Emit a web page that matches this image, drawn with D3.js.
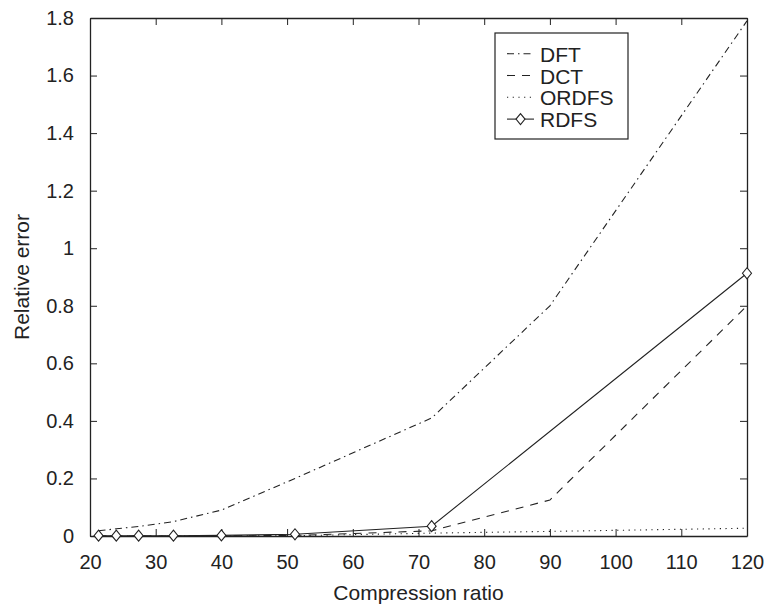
<!DOCTYPE html>
<html>
<head>
<meta charset="utf-8">
<script src="https://cdn.jsdelivr.net/npm/d3@7"></script>
<style>
  body { margin: 0; background: #fff; }
  text { font-family: "Liberation Sans", Arial, sans-serif; fill: #222; }
</style>
</head>
<body>
<div class="container"></div>
<script>
// ===== DATA =====
var xTicks = [20, 30, 40, 50, 60, 70, 80, 90, 100, 110, 120];
var yTicks = [0, 0.2, 0.4, 0.6, 0.8, 1, 1.2, 1.4, 1.6, 1.8];
var yTickLabels = ['0', '0.2', '0.4', '0.6', '0.8', '1', '1.2', '1.4', '1.6', '1.8'];

var ratioDFT = [21.3, 24, 27.4, 32.7, 40, 51.2, 72, 90, 120];
var errDFT   = [0.018, 0.025, 0.033, 0.05, 0.09, 0.2, 0.41, 0.8, 1.79];

var ratioDCT = [21.3, 24, 27.4, 32.7, 40, 51.2, 72, 90, 120];
var errDCT   = [0, 0, 0, 0, 0, 0.002, 0.018, 0.125, 0.8];

var ratioORDFS = [21.3, 24, 27.4, 32.7, 40, 51.2, 72, 90, 120];
var errORDFS   = [0, 0, 0, 0, 0, 0.001, 0.01, 0.016, 0.027];

var ratioRDFS = [21.3, 24, 27.4, 32.7, 40, 51.2, 72, 120];
var errRDFS   = [0.001, 0.001, 0.001, 0.001, 0.002, 0.006, 0.034, 0.913];

var seriesNames = ['DFT', 'DCT', 'ORDFS', 'RDFS'];

buildChart();

function buildChart() {

  /* ===== SET UP CHART ===== */
  var w = 768, h = 606;
  var left = 90, right = 747, top = 18, bottom = 536;
  var ink = '#222';

  var svg = d3.select('.container')
    .append('svg')
    .attr('width', w)
    .attr('height', h);

  var xScale = d3.scaleLinear().domain([20, 120]).range([left, right]);
  var yScale = d3.scaleLinear().domain([0, 1.8]).range([bottom, top]);

  var styles = {
    DFT:   { dash: '7,4,1.5,4' },
    DCT:   { dash: '8,7' },
    ORDFS: { dash: '1.2,4.5' },
    RDFS:  { dash: null }
  };

  /* ===== AXES ===== */
  var xAxis = d3.axisBottom(xScale).tickValues(xTicks).tickSizeInner(-7).tickSizeOuter(0).tickPadding(19);
  var yAxis = d3.axisLeft(yScale).tickValues(yTicks).tickSizeInner(-7).tickSizeOuter(0).tickPadding(16)
    .tickFormat(function(d, i) { return yTickLabels[i]; });
  var xTop = d3.axisTop(xScale).tickValues(xTicks).tickSizeInner(-7).tickSizeOuter(0).tickFormat('');
  var yRight = d3.axisRight(yScale).tickValues(yTicks).tickSizeInner(-7).tickSizeOuter(0).tickFormat('');

  function styleAxis(g) {
    g.selectAll('path').attr('stroke', ink).attr('stroke-width', 1.3);
    g.selectAll('line').attr('stroke', ink).attr('stroke-width', 1);
    g.selectAll('text').style('font-size', '20px').attr('fill', ink);
  }

  svg.append('g').attr('transform', 'translate(0,' + bottom + ')').call(xAxis).call(styleAxis);
  svg.append('g').attr('transform', 'translate(' + left + ',0)').call(yAxis).call(styleAxis);
  svg.append('g').attr('transform', 'translate(0,' + top + ')').call(xTop).call(styleAxis);
  svg.append('g').attr('transform', 'translate(' + right + ',0)').call(yRight).call(styleAxis);

  svg.append('text')
    .attr('x', (left + right) / 2)
    .attr('y', 600)
    .attr('text-anchor', 'middle')
    .style('font-size', '21px')
    .text('Compression ratio');

  svg.append('text')
    .attr('transform', 'translate(29,' + (top + bottom) / 2 + ') rotate(-90)')
    .attr('text-anchor', 'middle')
    .style('font-size', '21px')
    .text('Relative error');

  /* ===== LINES ===== */
  var line = d3.line()
    .x(function(d) { return xScale(d[0]); })
    .y(function(d) { return yScale(d[1]); });

  var seriesData = {
    DFT: d3.zip(ratioDFT, errDFT),
    DCT: d3.zip(ratioDCT, errDCT),
    ORDFS: d3.zip(ratioORDFS, errORDFS),
    RDFS: d3.zip(ratioRDFS, errRDFS)
  };

  seriesNames.forEach(function(name) {
    svg.append('path')
      .datum(seriesData[name])
      .attr('d', line)
      .attr('fill', 'none')
      .attr('stroke', ink)
      .attr('stroke-width', 1.1)
      .attr('stroke-dasharray', styles[name].dash);
  });

  // diamonds on RDFS
  var diamond = 'M0,-5.5L4.5,0L0,5.5L-4.5,0Z';
  svg.selectAll('.marker')
    .data(seriesData.RDFS)
    .enter()
    .append('path')
    .attr('class', 'marker')
    .attr('d', diamond)
    .attr('transform', function(d) {
      return 'translate(' + xScale(d[0]) + ',' + yScale(d[1]) + ')';
    })
    .attr('fill', '#fff')
    .attr('stroke', ink)
    .attr('stroke-width', 1.1);

  /* ===== LEGEND ===== */
  var legend = svg.append('g');
  legend.append('rect')
    .attr('x', 495).attr('y', 33)
    .attr('width', 133).attr('height', 106)
    .attr('fill', '#fff')
    .attr('stroke', ink)
    .attr('stroke-width', 1.2);

  var rows = legend.selectAll('.row')
    .data(seriesNames)
    .enter()
    .append('g')
    .attr('transform', function(d, i) { return 'translate(0,' + (61.7 + i * 21.8) + ')'; });

  rows.append('line')
    .attr('x1', 507).attr('x2', 534)
    .attr('y1', -8).attr('y2', -8)
    .attr('stroke', ink)
    .attr('stroke-width', 1.1)
    .attr('stroke-dasharray', function(d) { return styles[d].dash; });

  rows.filter(function(d) { return d === 'RDFS'; })
    .append('path')
    .attr('d', diamond)
    .attr('transform', 'translate(520.5,-8)')
    .attr('fill', '#fff')
    .attr('stroke', ink)
    .attr('stroke-width', 1.1);

  rows.append('text')
    .attr('x', 540)
    .style('font-size', '21px')
    .text(function(d) { return d; });
}
</script>
</body>
</html>
